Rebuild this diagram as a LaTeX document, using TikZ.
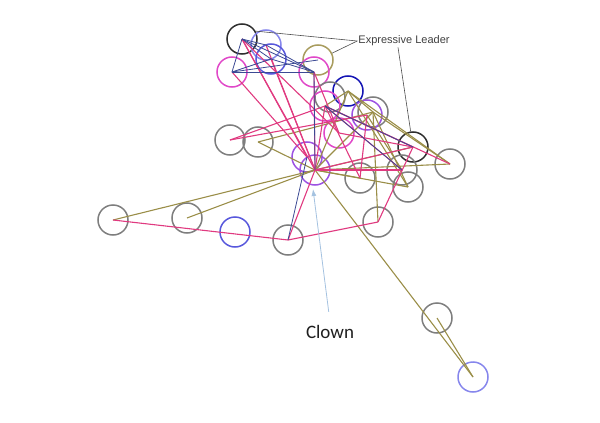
\documentclass[tikz,border=0pt]{standalone}
\usepackage{fontspec}
\setmainfont{Liberation Sans}
\newfontfamily\clownfont{Carlito}
\usetikzlibrary{arrows.meta}
\definecolor{cgray}{HTML}{7E7E7E}
\definecolor{cblack}{HTML}{2E2E2E}
\definecolor{cmag}{HTML}{E048C8}
\definecolor{cpurp}{HTML}{9C52E2}
\definecolor{cblue}{HTML}{5858DC}
\definecolor{clav}{HTML}{8686EC}
\definecolor{cdblue}{HTML}{1414B4}
\definecolor{colivec}{HTML}{A89C5E}
\definecolor{colive}{HTML}{9A8E48}
\definecolor{cpink}{HTML}{E03A80}
\definecolor{cnavy}{HTML}{3C4A94}
\definecolor{carrow}{HTML}{A4C2E0}
\begin{document}
\begin{tikzpicture}[x=1pt,y=-1pt,
  actor/.style={circle,draw,line width=1.5pt,minimum size=30pt,inner sep=0pt},
  gy/.style={actor,draw=cgray},
  bk/.style={actor,draw=cblack},
  mg/.style={actor,draw=cmag},
  pu/.style={actor,draw=cpurp},
  bl/.style={actor,draw=cblue},
  lv/.style={actor,draw=clav},
  db/.style={actor,draw=cdblue},
  oc/.style={actor,draw=colivec},
  ol/.style={draw=colive,line width=1.1pt},
  pk/.style={draw=cpink,line width=1.1pt},
  nv/.style={draw=cnavy,line width=0.8pt},
  annot/.style={draw=black!70,line width=0.6pt},
  lbl/.style={font=\fontsize{11}{13}\selectfont,text=black!75,inner sep=1pt},
  clownlbl/.style={font=\clownfont\fontsize{19}{22}\selectfont,text=black!88},
  clownarrow/.style={draw=carrow,line width=0.8pt,-{Latex[length=7pt,width=5pt]}}
]
\useasboundingbox (0,0) rectangle (600,423);
% actors
\node[bk] (A) at (242,39) {};
\node[lv] (B) at (266,45) {};
\node[bl] (C) at (271,59) {};
\node[mg] (D) at (232,72) {};
\node[oc] (E) at (318,60) {};
\node[mg] (F) at (314,72) {};
\node[db] (G) at (348,91) {};
\node[gy] (H) at (330,97) {};
\node[mg] (I) at (325,106) {};
\node[gy] (J) at (373,112) {};
\node[pu] (K) at (367,115) {};
\node[mg] (L) at (339,133) {};
\node[bk] (M) at (413,147) {};
\node[gy] (N) at (450,164) {};
\node[gy] (O) at (230,140) {};
\node[gy] (P) at (258,142) {};
\node[pu] (Q) at (307,157) {};
\node[pu] (R) at (315,170) {};
\node[gy] (S) at (360,178) {};
\node[gy] (T) at (402,170) {};
\node[gy] (U) at (408,187) {};
\node[gy] (V) at (378,222) {};
\node[gy] (W) at (113,220) {};
\node[gy] (X) at (187,218) {};
\node[bl] (Y) at (235,232) {};
\node[gy] (Z) at (288,240) {};
\node[gy] (AA) at (437,318) {};
\node[lv] (AB) at (473,377) {};
% olive ties
\foreach \a/\b in {R/W,R/X,R/AB,AA/AB,P/R,P/J,G/R,G/J,G/U,G/N,J/N,J/U,J/V,J/R,R/N,R/T,R/U,R/S,K/T,I/G,R/M}
  \draw[ol] (\a.center) -- (\b.center);
% pink ties
\foreach \a/\b in {A/R,A/L,D/Q,B/R,C/R,F/R,F/L,O/I,O/K,I/M,I/N,I/T,I/S,L/M,M/R,M/V,W/Z,Z/V,Z/R,R/T,K/S,I/R,A/Q}
  \draw[pk] (\a.center) -- (\b.center);
% navy ties
\foreach \a/\b in {A/D,A/F,A/C,A/B,D/F,D/C,C/F,B/F,F/R,I/T,I/M,Q/Z,D/E}
  \draw[nv] (\a.center) -- (\b.center);
% annotations
\node[lbl] (exl) at (404,41) {Expressive Leader};
\draw[annot] (exl.west) -- (A.30);
\draw[annot] (exl.west) -- (E);
\draw[annot] ([xshift=-6pt]exl.south) -- (M);
\node[clownlbl] (clown) at (330,332) {Clown};
\coordinate (clowntip) at (313,189);
\draw[clownarrow,shorten <=10pt] (clown.north) -- (clowntip);
\end{tikzpicture}
\end{document}
